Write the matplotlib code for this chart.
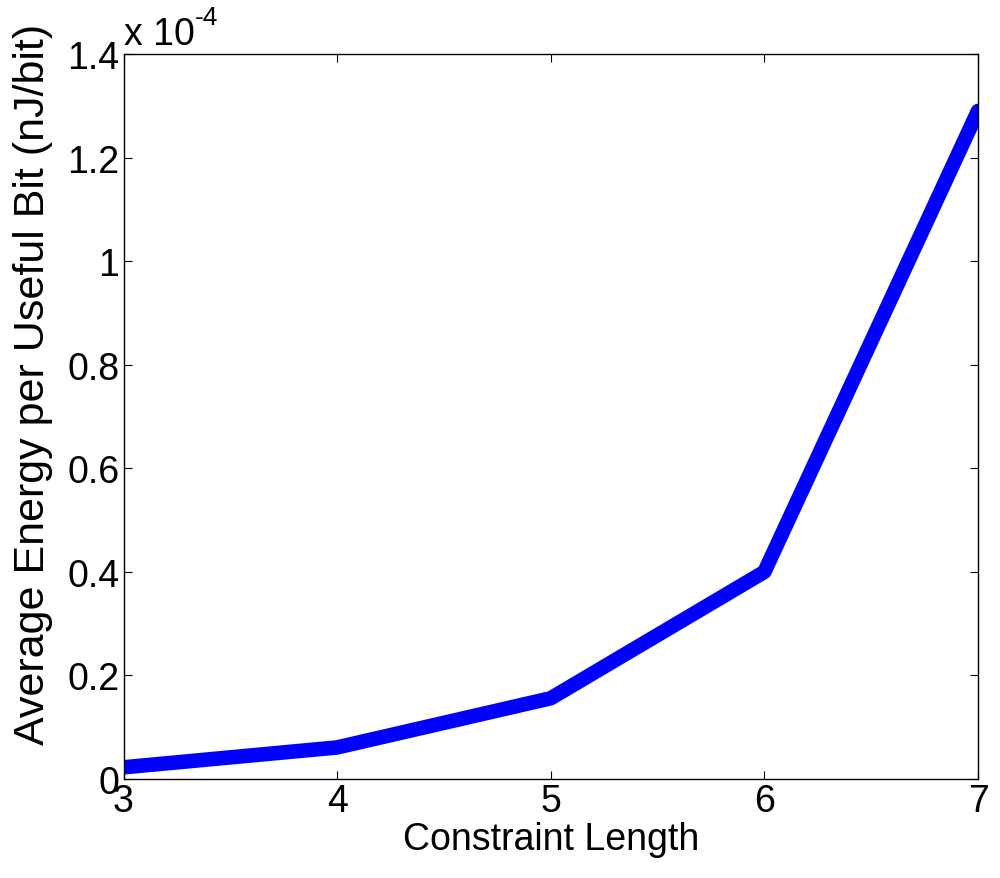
import matplotlib.pyplot as plt
from matplotlib.ticker import FuncFormatter

plt.rcParams['font.family'] = ['Liberation Sans', 'DejaVu Sans']

constraint_length = [3, 4, 5, 6, 7]
energy_per_bit = [0.0226e-4, 0.061e-4, 0.156e-4, 0.400e-4, 1.290e-4]  # nJ/bit

fig = plt.figure(figsize=(10, 8.79), dpi=100)
ax = fig.add_axes([0.1235, 0.1126, 0.8545, 0.8248])

ax.plot(constraint_length, energy_per_bit, color='#0000ff', linewidth=10.5,
        solid_joinstyle='round', solid_capstyle='round')

ax.set_xlim(3, 7)
ax.set_ylim(0, 1.4e-4)
ax.set_xticks([3, 4, 5, 6, 7])
ax.set_yticks([i * 0.2e-4 for i in range(8)])
ax.yaxis.set_major_formatter(FuncFormatter(lambda v, p: '%g' % round(v / 1e-4, 4)))

ax.tick_params(direction='in', length=6, width=0.8, top=True, right=True,
               labelsize=27, pad=3)
for s in ax.spines.values():
    s.set_linewidth(1.0)

ax.set_xlabel('Constraint Length', fontsize=27, labelpad=1)
ax.set_ylabel('Average Energy per Useful Bit (nJ/bit)', fontsize=31)
ax.yaxis.set_label_coords(-0.0825, 0.545)

# exponent label like MATLAB's
ax.text(0, 1.003, 'x 10', transform=ax.transAxes, fontsize=27,
        ha='left', va='bottom')
ax.text(0.0835, 1.035, '-4', transform=ax.transAxes, fontsize=19,
        ha='left', va='bottom')

fig.savefig('out.png', dpi=100)
